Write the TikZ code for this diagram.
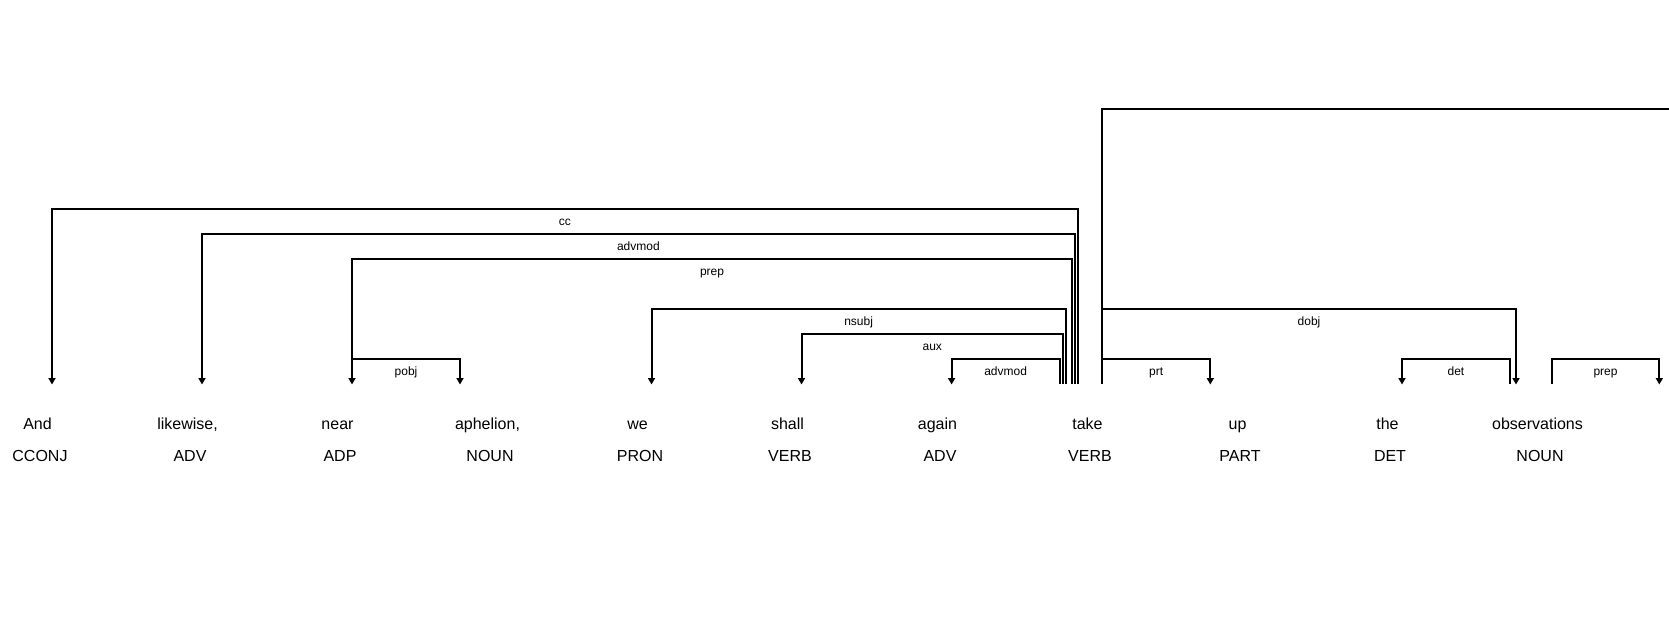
\documentclass[tikz,border=0pt]{standalone}
\usepackage{fontspec}
\setmainfont{Liberation Sans}
\usetikzlibrary{arrows.meta}
\begin{document}
\begin{tikzpicture}[x=1pt,y=-1pt,
  dep/.style={line width=2pt,line join=miter},
  arr/.style={dep,-{Triangle[length=6.5pt,width=7pt]}},
  word/.style={anchor=base,inner sep=0pt,font=\fontsize{16}{19}\selectfont},
  lbl/.style={anchor=base,inner sep=0pt,yshift=-16.5pt,font=\fontsize{12}{14}\selectfont}]
\useasboundingbox (0,0) rectangle (1669,618);
% words
\node[word] (w1) at (37.5,429.3) {And};
\node[word] (w2) at (187.5,429.3) {likewise,};
\node[word] (w3) at (337.5,429.3) {near};
\node[word] (w4) at (487.5,429.3) {aphelion,};
\node[word] (w5) at (637.5,429.3) {we};
\node[word] (w6) at (787.5,429.3) {shall};
\node[word] (w7) at (937.5,429.3) {again};
\node[word] (w8) at (1087.5,429.3) {take};
\node[word] (w9) at (1237.5,429.3) {up};
\node[word] (w10) at (1387.5,429.3) {the};
\node[word] (w11) at (1537.5,429.3) {observations};
% tags
\node[word] (t1) at (40,461.7) {CCONJ};
\node[word] (t2) at (190,461.7) {ADV};
\node[word] (t3) at (340,461.7) {ADP};
\node[word] (t4) at (490,461.7) {NOUN};
\node[word] (t5) at (640,461.7) {PRON};
\node[word] (t6) at (790,461.7) {VERB};
\node[word] (t7) at (940,461.7) {ADV};
\node[word] (t8) at (1090,461.7) {VERB};
\node[word] (t9) at (1240,461.7) {PART};
\node[word] (t10) at (1390,461.7) {DET};
\node[word] (t11) at (1540,461.7) {NOUN};
% levels
\coordinate (L1) at (0,359);
\coordinate (L3) at (0,309);
\coordinate (L5) at (0,259);
\coordinate (L6) at (0,234);
\coordinate (L7) at (0,209);
\coordinate (L11) at (0,108.6);
% attachment points
\coordinate (and-in) at (52,384.5);
\coordinate (likewise-in) at (202,384.5);
\coordinate (near-in) at (352,384.5);
\coordinate (aph-in) at (460,384.5);
\coordinate (we-in) at (651.5,384.5);
\coordinate (shall-in) at (801.5,384.5);
\coordinate (again-in) at (951.6,384.5);
\coordinate (take-cc) at (1077.7,384);
\coordinate (take-advmod) at (1074.7,384);
\coordinate (take-prep) at (1072,384);
\coordinate (take-nsubj) at (1065.7,384);
\coordinate (take-aux) at (1063,384);
\coordinate (take-advmod2) at (1059.7,384);
\coordinate (take-out) at (1102,384);
\coordinate (up-in) at (1210.3,384.5);
\coordinate (the-in) at (1402,384.5);
\coordinate (obs-det) at (1509.8,384);
\coordinate (obs-in) at (1516,384.5);
\coordinate (obs-prep) at (1551.8,384);
\coordinate (next-in) at (1659.3,384.5);
\coordinate (far-right) at (1700,384.5);
% arcs
\draw[arr] (take-cc) -- (take-cc |- L7) -| node[lbl,pos=0.25]{cc} (and-in);
\draw[arr] (take-advmod) -- (take-advmod |- L6) -| node[lbl,pos=0.25]{advmod} (likewise-in);
\draw[arr] (take-prep) -- (take-prep |- L5) -| node[lbl,pos=0.25]{prep} (near-in);
\draw[arr] (take-nsubj) -- (take-nsubj |- L3) -| node[lbl,pos=0.25]{nsubj} (we-in);
\draw[arr] (take-aux) -- (take-aux |- {0,334}) -| node[lbl,pos=0.25]{aux} (shall-in);
\draw[arr] (take-advmod2) -- (take-advmod2 |- L1) -| node[lbl,pos=0.25]{advmod} (again-in);
\draw[arr] (near-in |- L1) -| node[lbl,pos=0.25]{pobj} (aph-in);
\draw[arr] (take-out) -- (take-out |- L1) -| node[lbl,pos=0.25]{prt} (up-in);
\draw[arr] (take-out) -- (take-out |- L3) -| node[lbl,pos=0.25]{dobj} (obs-in);
\draw[dep] (take-out) -- (take-out |- L11) -| (far-right);
\draw[arr] (obs-det) -- (obs-det |- L1) -| node[lbl,pos=0.25]{det} (the-in);
\draw[arr] (obs-prep) -- (obs-prep |- L1) -| node[lbl,pos=0.25]{prep} (next-in);
\end{tikzpicture}
\end{document}
